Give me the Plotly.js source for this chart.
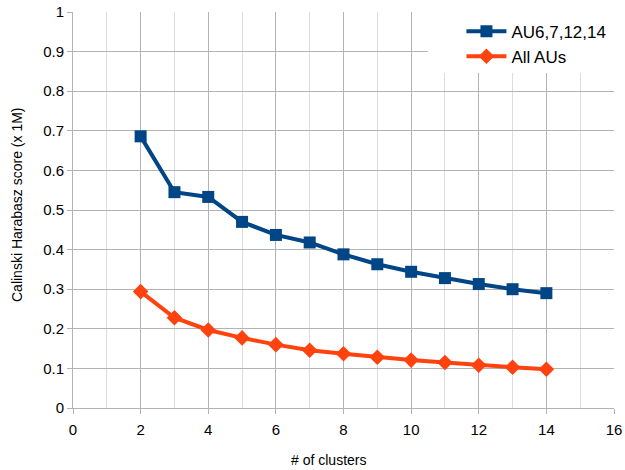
<!DOCTYPE html>
<html><head><meta charset="utf-8">
<script src="https://cdn.plot.ly/plotly-3.0.1.min.js"></script>
<style>html,body{margin:0;padding:0;background:#fff;}#chart{width:625px;height:470px;}</style>
</head><body><div id="chart"></div>
<script>
const clusters = [2,3,4,5,6,7,8,9,10,11,12,13,14];
const au6_7_12_14 = [0.686,0.545,0.533,0.470,0.437,0.418,0.388,0.363,0.344,0.328,0.313,0.300,0.290];
const allAUs = [0.294,0.228,0.197,0.177,0.160,0.146,0.137,0.128,0.121,0.115,0.108,0.103,0.098];
const seriesNames = ["AU6,7,12,14","All AUs"];
const xTitle = "# of clusters";
const yTitle = "Calinski Harabasz score (x 1M)";

const font = "Liberation Sans, Arial, sans-serif";
const traces = [
  {x: clusters, y: au6_7_12_14, name: seriesNames[0], type:'scatter', mode:'lines+markers',
   line:{color:'#004586', width:4}, marker:{symbol:'square', size:12, color:'#004586'}},
  {x: clusters, y: allAUs, name: seriesNames[1], type:'scatter', mode:'lines+markers',
   line:{color:'#ff420e', width:4}, marker:{symbol:'diamond', size:12, color:'#ff420e'}}
];
const layout = {
  width:625, height:470,
  margin:{l:73, r:11, t:12, b:62},
  paper_bgcolor:'#fff', plot_bgcolor:'#fff',
  font:{family:font, color:'#000'},
  showlegend:true,
  legend:{x:0.718, y:0.996, xanchor:'left', yanchor:'top', bgcolor:'rgba(0,0,0,0)', font:{size:17, family:font},
          borderwidth:0, itemwidth:40},
  shapes:[{type:'rect', xref:'paper', yref:'paper', x0:0.656, x1:1, y0:0.846, y1:1,
           fillcolor:'#fff', line:{width:0}, layer:'above'}],
  annotations:[
    {text:xTitle, xref:'paper', yref:'paper', x:(328-73)/541, y:(408-460)/396, xanchor:'center', yanchor:'middle',
     showarrow:false, font:{size:14, family:font, color:'#000'}},
    {text:yTitle, xref:'paper', yref:'paper', x:(17-73)/541, y:(408-205)/396, xanchor:'center', yanchor:'middle',
     textangle:-90, showarrow:false, font:{size:14, family:font, color:'#000'}}
  ],
  xaxis:{range:[0,16], dtick:2, tick0:0, showgrid:true, gridcolor:'#b3b3b3', gridwidth:1,
         minor:{dtick:1, showgrid:true, gridcolor:'#dddddd', gridwidth:1},
         zeroline:false, showline:true, linecolor:'#b3b3b3', linewidth:1,
         ticks:'outside', ticklen:5, tickcolor:'#b3b3b3', ticklabelstandoff:3,
         tickfont:{size:15, family:font, color:'#000'}},
  yaxis:{range:[0,1], dtick:0.1, tick0:0, showgrid:true, gridcolor:'#b3b3b3', gridwidth:1,
         zeroline:false, showline:true, linecolor:'#b3b3b3', linewidth:1,
         ticks:'outside', ticklen:5, tickcolor:'#b3b3b3',
         tickfont:{size:15, family:font, color:'#000'}}
};
Plotly.newPlot('chart', traces, layout, {displayModeBar:false, staticPlot:true});
</script></body></html>
